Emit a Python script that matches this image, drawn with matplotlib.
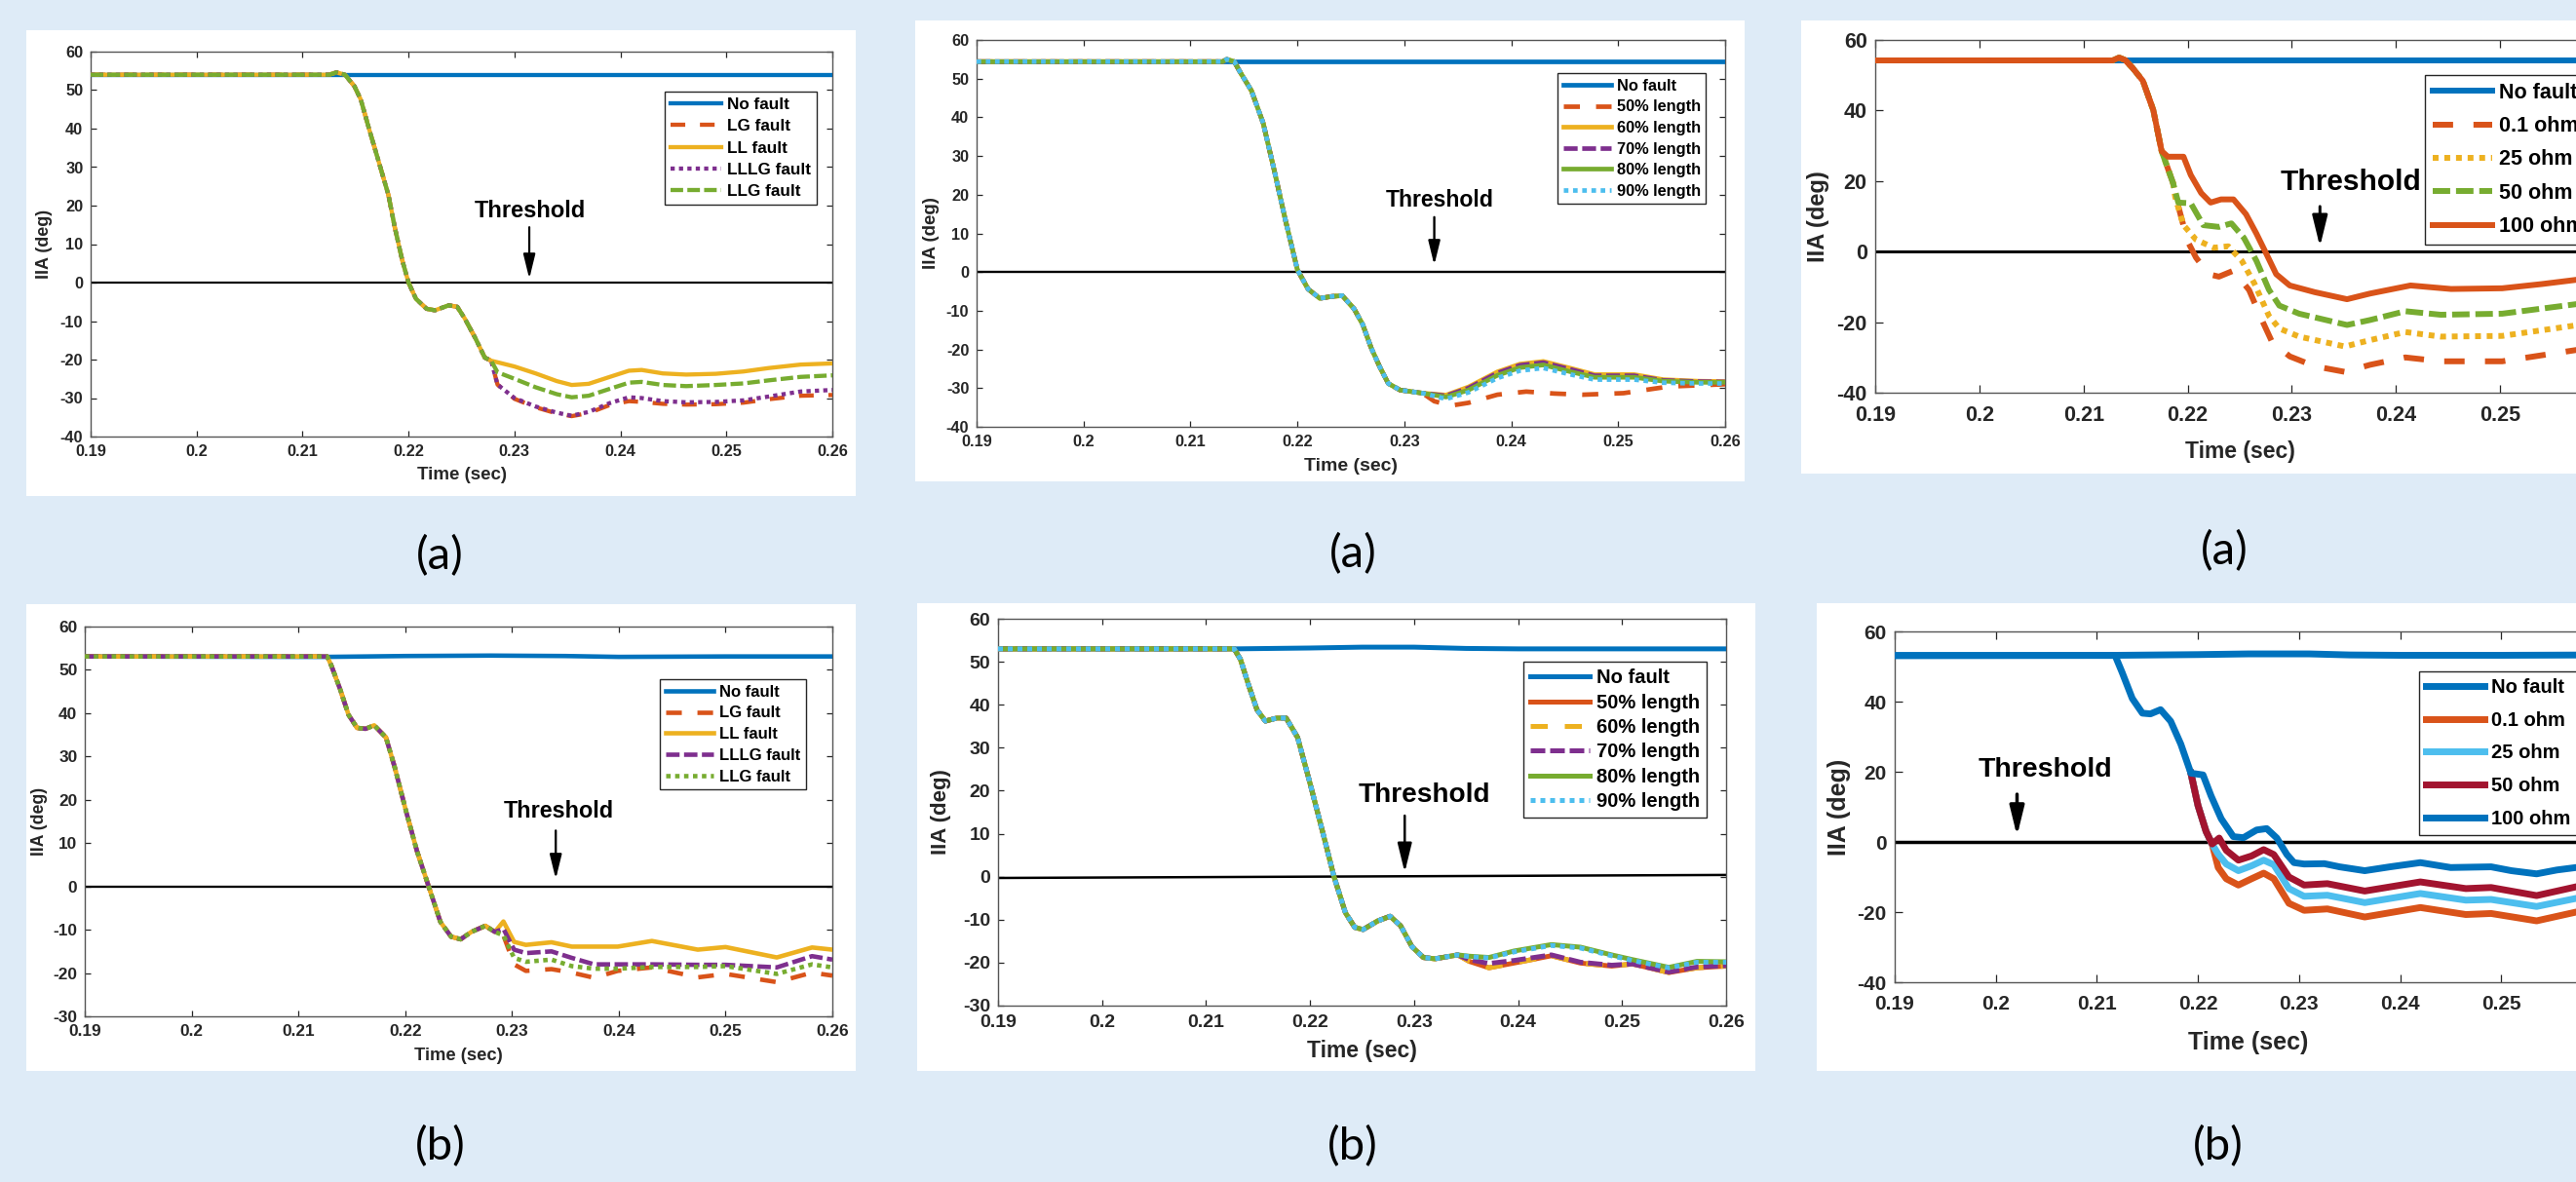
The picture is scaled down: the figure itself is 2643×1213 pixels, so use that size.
"""Six IIA(deg) vs time panels: fault type, fault location and fault resistance, cases (a) and (b)."""
import matplotlib
matplotlib.use("Agg")
import matplotlib.pyplot as plt
import numpy as np
from matplotlib.patches import Rectangle

W, H = 2643, 1213
BG = "#DEEBF7"
BLUE, ORANGE, YELLOW = "#0072BD", "#D95319", "#EDB120"
PURPLE, GREEN, CYAN, MAROON = "#7E2F8E", "#77AC30", "#4DBEEE", "#A2142F"

plt.rcParams["font.family"] = ["Liberation Sans", "DejaVu Sans"]

x_ticks = [0.19, 0.20, 0.21, 0.22, 0.23, 0.24, 0.25, 0.26]
x_tick_labels = ["0.19", "0.2", "0.21", "0.22", "0.23", "0.24", "0.25", "0.26"]
y_ticks_10 = [-40, -30, -20, -10, 0, 10, 20, 30, 40, 50, 60]
y_ticks_20 = [-40, -20, 0, 20, 40, 60]
y_ticks_b = [-30, -20, -10, 0, 10, 20, 30, 40, 50, 60]
thr_t = [0.19, 0.26]
thr_y = [0.0, 0.0]
thr_y_b2 = [-0.3, 0.4]

# ---- (a) fault type ----
a1_nofault_t = [0.190, 0.260]
a1_nofault = [54.0, 54.0]
a1_pre_t = [0.1900, 0.2125, 0.2132, 0.2140, 0.2149, 0.2155, 0.2163, 0.2172, 0.2181, 0.2187, 0.2194,
            0.2200, 0.2207, 0.2217, 0.2225, 0.2238, 0.2246, 0.2253, 0.2263, 0.2272, 0.2278]
a1_pre = [54.0, 54.0, 54.6, 54.0, 51.0, 47.5, 39.7, 31.3, 22.8, 14.4, 5.9,
          0.0, -4.2, -6.8, -7.2, -5.9, -6.3, -9.3, -14.4, -19.5, -20.3]
a1_post_t = [0.2284, 0.2300, 0.2320, 0.2340, 0.2354, 0.2370, 0.2390, 0.2408,
             0.2420, 0.2440, 0.2462, 0.2490, 0.2516, 0.2540, 0.2570, 0.2600]
a1_lg = [-26.5, -30.2, -32.4, -34.0, -34.7, -33.9, -31.8, -30.8, -31.0, -31.5, -31.7, -31.6, -31.2, -30.3, -29.4, -29.2]
a1_ll = [-20.7, -21.8, -23.6, -25.6, -26.6, -26.3, -24.5, -22.9, -22.7, -23.6, -23.9, -23.7, -23.1, -22.2, -21.3, -21.0]
a1_lllg = [-26.5, -30.0, -32.2, -33.8, -34.6, -33.6, -31.3, -29.8, -30.0, -30.8, -31.1, -31.0, -30.6, -29.6, -28.3, -27.9]
a1_llg = [-23.3, -25.0, -27.2, -29.0, -29.8, -29.4, -27.6, -26.0, -25.8, -26.6, -26.9, -26.6, -26.2, -25.4, -24.5, -24.1]

# ---- (a) fault location ----
a2_nofault_t = [0.190, 0.260]
a2_nofault = [54.4, 54.4]
a2_pre_t = [0.1900, 0.2130, 0.2134, 0.2141, 0.2146, 0.2157, 0.2168, 0.2178, 0.2189, 0.2200, 0.2210,
            0.2221, 0.2232, 0.2242, 0.2253, 0.2261, 0.2269, 0.2277, 0.2285, 0.2296, 0.2317]
a2_pre = [54.4, 54.4, 55.0, 54.4, 51.9, 46.9, 38.5, 26.7, 13.2, 0.6, -4.4,
          -6.8, -6.3, -6.1, -9.5, -13.5, -19.6, -24.5, -28.8, -30.5, -31.3]
a2_grp_t = [0.2339, 0.2360, 0.2387, 0.2408, 0.2430, 0.2456, 0.2478, 0.2515, 0.2542, 0.2574, 0.2600]
a2_60 = [-31.8, -29.7, -25.8, -23.8, -23.1, -24.9, -26.5, -26.5, -27.8, -28.2, -28.3]
a2_70 = [-32.0, -30.0, -26.1, -24.1, -23.4, -25.2, -26.8, -26.8, -28.0, -28.3, -28.4]
a2_80 = [-32.3, -30.5, -26.7, -24.7, -24.0, -25.8, -27.2, -27.2, -28.2, -28.5, -28.5]
a2_90 = [-32.8, -31.1, -27.4, -25.5, -24.8, -26.5, -27.8, -27.8, -28.6, -28.8, -28.8]
a2_50_t = [0.2328, 0.2344, 0.2360, 0.2387, 0.2414, 0.2440, 0.2467, 0.2505, 0.2547, 0.2600]
a2_50 = [-33.4, -34.5, -33.8, -31.7, -30.9, -31.4, -31.7, -31.3, -29.6, -29.0]

# ---- (a) fault resistance ----
a3_nofault_t = [0.190, 0.260]
a3_nofault = [54.2, 54.2]
a3_pre_t = [0.1900, 0.2128, 0.2134, 0.2140, 0.2147, 0.2157, 0.2167, 0.2175]
a3_pre = [54.2, 54.2, 55.0, 54.3, 52.1, 48.4, 40.1, 28.5]
a3_100_t = [0.2181, 0.2196, 0.2203, 0.2213, 0.2222, 0.2232, 0.2244, 0.2256, 0.2266, 0.2276, 0.2285,
            0.2298, 0.2322, 0.2353, 0.2375, 0.2414, 0.2453, 0.2502, 0.2540, 0.2573, 0.2600]
a3_100 = [26.9, 26.9, 21.7, 16.6, 13.9, 14.8, 14.8, 10.6, 5.1, -0.9, -6.4,
          -9.6, -11.5, -13.5, -11.9, -9.6, -10.6, -10.4, -9.2, -8.0, -7.3]
a3_50_t = [0.2186, 0.2191, 0.2203, 0.2215, 0.2230, 0.2242, 0.2254, 0.2266, 0.2278,
           0.2288, 0.2307, 0.2353, 0.2375, 0.2409, 0.2443, 0.2502, 0.2573, 0.2600]
a3_50 = [19.4, 13.9, 13.7, 7.5, 7.0, 8.0, 3.9, -2.6, -10.8, -15.3, -17.6, -20.8, -19.4, -16.9, -17.9, -17.6, -14.9, -14.0]
a3_25_t = [0.2186, 0.2188, 0.2196, 0.2208, 0.2225, 0.2239, 0.2252, 0.2264, 0.2278,
           0.2288, 0.2307, 0.2351, 0.2375, 0.2409, 0.2443, 0.2502, 0.2573, 0.2600]
a3_25 = [19.4, 15.5, 7.5, 3.4, 1.1, 1.5, -2.6, -9.0, -18.2, -21.8, -24.1, -26.9, -25.1, -22.8, -24.1, -23.9, -20.9, -20.0]
a3_01_t = [0.2186, 0.2190, 0.2200, 0.2208, 0.2220, 0.2230, 0.2244, 0.2259, 0.2271, 0.2281,
           0.2298, 0.2322, 0.2351, 0.2375, 0.2409, 0.2443, 0.2502, 0.2573, 0.2600]
a3_01 = [19.4, 14.0, 2.9, -1.7, -6.4, -7.1, -5.4, -10.9, -19.2, -25.6,
         -29.7, -32.5, -34.1, -32.1, -30.0, -31.1, -31.1, -27.9, -27.0]

# ---- (b) fault type ----
b1_nofault_t = [0.190, 0.2127, 0.2200, 0.2280, 0.2350, 0.2400, 0.2500, 0.2600]
b1_nofault = [53.1, 53.0, 53.2, 53.3, 53.2, 53.0, 53.1, 53.1]
b1_pre_t = [0.1900, 0.2127, 0.2131, 0.2139, 0.2147, 0.2155, 0.2163, 0.2171, 0.2182, 0.2190,
            0.2201, 0.2211, 0.2222, 0.2233, 0.2243, 0.2252, 0.2262, 0.2275, 0.2284]
b1_pre = [53.1, 53.1, 50.9, 45.6, 39.6, 36.6, 36.4, 37.2, 34.4, 27.7,
          17.2, 8.2, 0.0, -8.2, -11.6, -12.2, -10.5, -9.1, -10.5]
b1_post_t = [0.2292, 0.2302, 0.2313, 0.2337, 0.2356, 0.2377, 0.2399, 0.2431, 0.2474, 0.2500, 0.2548, 0.2581, 0.2600]
b1_ll = [-8.1, -12.8, -13.5, -12.9, -13.9, -13.9, -13.9, -12.6, -14.6, -14.0, -16.4, -14.1, -14.6]
b1_lllg = [-9.8, -14.6, -15.4, -15.0, -16.5, -18.0, -18.0, -18.0, -18.1, -18.1, -18.7, -16.1, -16.9]
b1_llg = [-11.3, -16.5, -17.4, -16.9, -18.4, -19.0, -19.0, -18.6, -18.6, -18.4, -20.2, -18.0, -18.7]
b1_lg = [-11.3, -18.0, -19.5, -19.1, -19.9, -21.1, -19.5, -18.7, -21.0, -20.2, -22.1, -19.9, -20.6]

# ---- (b) fault location ----
b2_nofault_t = [0.190, 0.2127, 0.2200, 0.2250, 0.2300, 0.2350, 0.2400, 0.2500, 0.2600]
b2_nofault = [53.0, 53.0, 53.2, 53.4, 53.4, 53.1, 53.0, 53.0, 53.0]
b2_pre_t = [0.1900, 0.2127, 0.2133, 0.2141, 0.2149, 0.2157, 0.2168, 0.2177, 0.2188, 0.2199, 0.2212,
            0.2223, 0.2234, 0.2243, 0.2251, 0.2265, 0.2277, 0.2287, 0.2298, 0.2309, 0.2320, 0.2342]
b2_pre = [53.0, 53.0, 50.6, 44.5, 38.8, 36.2, 36.9, 36.9, 32.4, 22.6, 10.5,
          0.0, -8.4, -11.8, -12.3, -10.3, -9.2, -11.4, -16.3, -18.8, -19.1, -18.2]
b2_post_t = [0.2353, 0.2372, 0.2396, 0.2432, 0.2460, 0.2490, 0.2510, 0.2545, 0.2572, 0.2600]
b2_50 = [-19.7, -21.2, -20.1, -18.4, -20.1, -20.8, -20.3, -22.3, -21.2, -20.8]
b2_60 = [-19.7, -21.2, -20.1, -18.4, -20.1, -20.8, -20.3, -22.3, -21.2, -20.8]
b2_70 = [-19.3, -20.2, -19.5, -18.2, -19.9, -20.6, -20.3, -22.2, -21.0, -20.7]
b2_80 = [-18.5, -18.8, -17.3, -15.8, -16.4, -18.2, -19.3, -21.1, -19.7, -19.8]
b2_90 = [-18.6, -18.9, -17.5, -16.0, -16.6, -18.4, -19.5, -21.2, -19.9, -19.9]

# ---- (b) fault resistance ----
b3_nofault_t = [0.190, 0.2120, 0.2200, 0.2250, 0.2310, 0.2350, 0.2400, 0.2500, 0.2600]
b3_nofault = [53.1, 53.2, 53.4, 53.6, 53.6, 53.3, 53.2, 53.2, 53.3]
b3_100_t = [0.1900, 0.2118, 0.2125, 0.2135, 0.2145, 0.2153, 0.2163, 0.2173, 0.2183, 0.2193, 0.2205,
            0.2213, 0.2223, 0.2235, 0.2245, 0.2258, 0.2268, 0.2278, 0.2288, 0.2295, 0.2305, 0.2325,
            0.2340, 0.2365, 0.2390, 0.2420, 0.2450, 0.2490, 0.2510, 0.2535, 0.2555, 0.2574, 0.2600]
b3_100 = [53.15, 53.15, 48.3, 40.9, 36.7, 36.5, 37.7, 34.4, 27.9, 19.6, 19.1,
          13.1, 6.6, 1.5, 1.2, 3.4, 3.8, 1.1, -3.6, -5.9, -6.3, -6.2,
          -7.1, -8.2, -7.1, -5.9, -7.3, -7.1, -8.2, -9.1, -8.0, -7.3, -6.5]
b3_50_t = [0.2193, 0.2200, 0.2208, 0.2214, 0.2221, 0.2228, 0.2240, 0.2253, 0.2265, 0.2275,
           0.2290, 0.2305, 0.2328, 0.2365, 0.2420, 0.2465, 0.2490, 0.2535, 0.2574, 0.2600]
b3_50 = [19.6, 10.4, 3.0, -0.6, 1.1, -2.4, -5.2, -4.0, -2.2, -3.6,
         -10.0, -12.3, -11.9, -14.0, -11.4, -13.3, -13.0, -15.3, -12.8, -12.0]
b3_low_t = [0.2214, 0.2220, 0.2228, 0.2240, 0.2253, 0.2265, 0.2275, 0.2290, 0.2305,
            0.2328, 0.2365, 0.2420, 0.2465, 0.2490, 0.2535, 0.2574, 0.2600]
b3_25 = [-0.6, -3.5, -6.3, -8.2, -6.8, -5.2, -6.5, -13.3, -15.5, -15.2, -17.3, -14.7, -16.6, -16.4, -18.4, -16.1, -15.5]
b3_01 = [-0.6, -7.3, -10.5, -12.3, -10.5, -8.9, -10.5, -17.5, -19.5, -19.1, -21.4, -18.7, -20.7, -20.4, -22.5, -20.0, -19.5]

panel_letters = ["(a)", "(a)", "(a)", "(b)", "(b)", "(b)"]

STYLE = {
    "solid": "-",
    "dash": (0, (3.0, 1.0)),
    "gap": (0, (3.5, 3.5)),
    "dot": (0, (1.0, 1.0)),
}


def join(t0, y0, t1, y1):
    return np.concatenate([t0, t1]), np.concatenate([y0, y1])


def px_rect(x0, y0, x1, y1):
    return [x0 / W, 1 - y1 / H, (x1 - x0) / W, (y1 - y0) / H]


# fs = (tick, legend, threshold, xlabel, ylabel); leg = (x, y, handlelength, labelspacing)
# pads = (x tick pad, y tick pad)
P = [
    dict(white=(27, 31, 878, 509), box=(93, 53, 854, 448), yt=y_ticks_10, ylim=(-40, 60),
         fs=(11.8, 12.3, 17, 13.5, 13), lw=3.1, tl=4, pads=(5.5, 5.5), leg=(0.774, 0.896, 3.05, 0.43),
         xl=(0.5, -0.101), yl=(-0.062, 0.5), thr=(0.2315, 17.0, 0.2314, 14.4, 1.0), thr_y=thr_y,
         series=[(a1_nofault_t, a1_nofault, BLUE, "solid", "No fault"),
                 (*join(a1_pre_t, a1_pre, a1_post_t, a1_lg), ORANGE, "gap", "LG fault"),
                 (*join(a1_pre_t, a1_pre, a1_post_t, a1_ll), YELLOW, "solid", "LL fault"),
                 (*join(a1_pre_t, a1_pre, a1_post_t, a1_lllg), PURPLE, "dot", "LLLG fault"),
                 (*join(a1_pre_t, a1_pre, a1_post_t, a1_llg), GREEN, "dash", "LLG fault")]),
    dict(white=(939, 21, 1790, 494), box=(1002, 41, 1770, 438), yt=y_ticks_10, ylim=(-40, 60),
         fs=(11.7, 11.8, 16.6, 14, 13.5), lw=3.4, tl=4, pads=(5.5, 5.5), leg=(0.776, 0.914, 3.0, 0.40),
         xl=(0.5, -0.101), yl=(-0.060, 0.5), thr=(0.2333, 16.85, 0.2328, 14.2, 1.8), thr_y=thr_y,
         series=[(a2_nofault_t, a2_nofault, BLUE, "solid", "No fault"),
                 (*join(a2_pre_t, a2_pre, a2_50_t, a2_50), ORANGE, "gap", "50% length"),
                 (*join(a2_pre_t, a2_pre, a2_grp_t, a2_60), YELLOW, "solid", "60% length"),
                 (*join(a2_pre_t, a2_pre, a2_grp_t, a2_70), PURPLE, "dash", "70% length"),
                 (*join(a2_pre_t, a2_pre, a2_grp_t, a2_80), GREEN, "solid", "80% length"),
                 (*join(a2_pre_t, a2_pre, a2_grp_t, a2_90), CYAN, "dot", "90% length")]),
    dict(white=(1848, 21, 2720, 486), box=(1924, 41, 2672, 403), yt=y_ticks_20, ylim=(-40, 60),
         fs=(15.5, 15.5, 21.5, 16.5, 17), lw=4.3, tl=6, pads=(9, 6), leg=(0.754, 0.90, 2.85, 0.62),
         xl=(0.5, -0.166), yl=(-0.078, 0.5), thr=(0.23565, 17.5, 0.2327, 12.8, 1.4), thr_y=thr_y,
         series=[(a3_nofault_t, a3_nofault, BLUE, "solid", "No fault"),
                 (*join(a3_pre_t, a3_pre, a3_01_t, a3_01), ORANGE, "gap", "0.1 ohm"),
                 (*join(a3_pre_t, a3_pre, a3_25_t, a3_25), YELLOW, "dot", "25 ohm"),
                 (*join(a3_pre_t, a3_pre, a3_50_t, a3_50), GREEN, "dash", "50 ohm"),
                 (*join(a3_pre_t, a3_pre, a3_100_t, a3_100), ORANGE, "solid", "100 ohm")]),
    dict(white=(27, 620, 878, 1099), box=(87, 643, 854, 1043), yt=y_ticks_b, ylim=(-30, 60),
         fs=(12.4, 12, 16.8, 13.2, 12.7), lw=3.3, tl=4, pads=(5.5, 5.5), leg=(0.769, 0.865, 2.95, 0.40),
         xl=(0.5, -0.100), yl=(-0.060, 0.5), thr=(0.2344, 15.8, 0.2341, 12.9, 1.7), thr_y=thr_y,
         series=[(b1_nofault_t, b1_nofault, BLUE, "solid", "No fault"),
                 (*join(b1_pre_t, b1_pre, b1_post_t, b1_lg), ORANGE, "gap", "LG fault"),
                 (*join(b1_pre_t, b1_pre, b1_post_t, b1_ll), YELLOW, "solid", "LL fault"),
                 (*join(b1_pre_t, b1_pre, b1_post_t, b1_lllg), PURPLE, "dash", "LLLG fault"),
                 (*join(b1_pre_t, b1_pre, b1_post_t, b1_llg), GREEN, "dot", "LLG fault")]),
    dict(white=(941, 619, 1801, 1099), box=(1024, 635, 1771, 1032), yt=y_ticks_b, ylim=(-30, 60),
         fs=(14, 14.5, 20.2, 16.5, 16), lw=3.6, tl=4.5, pads=(6.5, 5.5), leg=(0.7216, 0.889, 3.0, 0.32),
         xl=(0.5, -0.118), yl=(-0.078, 0.5), thr=(0.2310, 17.3, 0.2291, 14.2, 1.0), thr_y=thr_y_b2,
         series=[(b2_nofault_t, b2_nofault, BLUE, "solid", "No fault"),
                 (*join(b2_pre_t, b2_pre, b2_post_t, b2_50), ORANGE, "solid", "50% length"),
                 (*join(b2_pre_t, b2_pre, b2_post_t, b2_60), YELLOW, "gap", "60% length"),
                 (*join(b2_pre_t, b2_pre, b2_post_t, b2_70), PURPLE, "dash", "70% length"),
                 (*join(b2_pre_t, b2_pre, b2_post_t, b2_80), GREEN, "solid", "80% length"),
                 (*join(b2_pre_t, b2_pre, b2_post_t, b2_90), CYAN, "dot", "90% length")]),
    dict(white=(1864, 619, 2720, 1099), box=(1944, 648, 2670, 1008), yt=y_ticks_20, ylim=(-40, 60),
         fs=(15, 14.5, 20.5, 18, 18), lw=5.0, tl=6, pads=(9.5, 6), leg=(0.741, 0.886, 3.0, 0.73),
         xl=(0.5, -0.172), yl=(-0.079, 0.5), thr=(0.2049, 18.5, 0.2021, 13.6, 1.7), thr_y=thr_y,
         series=[(b3_nofault_t, b3_nofault, BLUE, "solid", "No fault"),
                 (*join(b3_50_t[:4], b3_50[:4], b3_low_t[1:], b3_01[1:]), ORANGE, "solid", "0.1 ohm"),
                 (*join(b3_50_t[:4], b3_50[:4], b3_low_t[1:], b3_25[1:]), CYAN, "solid", "25 ohm"),
                 (b3_50_t, b3_50, MAROON, "solid", "50 ohm"),
                 (b3_100_t, b3_100, BLUE, "solid", "100 ohm")]),
]

letter_pos = [(451, 571), (1388, 569), (2282, 566), (452, 1177), (1388, 1177), (2276, 1177)]

fig = plt.figure(figsize=(W / 100, H / 100), dpi=100)
fig.patch.set_facecolor(BG)

for p, letter, (lx, ly) in zip(P, panel_letters, letter_pos):
    x0, y0, x1, y1 = p["white"]
    fig.add_artist(Rectangle((x0 / W, 1 - y1 / H), (x1 - x0) / W, (y1 - y0) / H,
                             transform=fig.transFigure, facecolor="white",
                             edgecolor="none", zorder=-1))
    ax = fig.add_axes(px_rect(*p["box"]))
    fs_tick, fs_leg, fs_thr, fs_xl, fs_yl = p["fs"]

    ax.plot(thr_t, p["thr_y"], color="black", lw=p["lw"] * 0.5, zorder=2)
    for t, y, c, st, lab in p["series"]:
        ax.plot(t, y, color=c, lw=p["lw"], linestyle=STYLE[st], label=lab, zorder=3)

    ax.set_xlim(0.19, 0.26)
    ax.set_ylim(*p["ylim"])
    ax.set_xticks(x_ticks, labels=x_tick_labels, fontweight="bold")
    ax.set_yticks(p["yt"], labels=[str(v) for v in p["yt"]], fontweight="bold")
    ax.tick_params(direction="in", top=True, right=True, length=p["tl"], width=0.9,
                   labelsize=fs_tick, colors="#262626")
    ax.tick_params(axis="x", pad=p["pads"][0])
    ax.tick_params(axis="y", pad=p["pads"][1])
    for s in ax.spines.values():
        s.set_color("#555555")
        s.set_linewidth(1.0)

    ax.set_xlabel("Time (sec)", fontsize=fs_xl, fontweight="bold", color="#262626", va="center")
    ax.xaxis.set_label_coords(*p["xl"])
    ax.set_ylabel("IIA (deg)", fontsize=fs_yl, fontweight="bold", color="#262626", va="center")
    ax.yaxis.set_label_coords(*p["yl"])

    tx, ty, ax_t, tail, tip = p["thr"]
    ax.text(tx, ty, "Threshold", ha="center", va="baseline", fontsize=fs_thr,
            fontweight="bold", color="black", zorder=5)
    ax.annotate("", xy=(ax_t, tip), xytext=(ax_t, tail),
                arrowprops=dict(arrowstyle="-|>,head_length=0.9,head_width=0.22",
                                color="black", lw=p["lw"] * 0.5, shrinkA=0, shrinkB=0,
                                mutation_scale=fs_thr))

    lgx, lgy, hl, ls = p["leg"]
    leg = ax.legend(loc="upper left", bbox_to_anchor=(lgx, lgy), borderaxespad=0,
                    fancybox=False, framealpha=1, edgecolor="#262626",
                    prop={"weight": "bold", "size": fs_leg}, handlelength=hl,
                    handletextpad=0.35, labelspacing=ls, borderpad=0.35)
    leg.get_frame().set_linewidth(1.0)

    fig.text(lx / W, 1 - ly / H, letter, ha="center", va="center", fontsize=34,
             family=["Lato", "DejaVu Sans"], color="black")

fig.savefig("out.png", dpi=100, facecolor=BG)
